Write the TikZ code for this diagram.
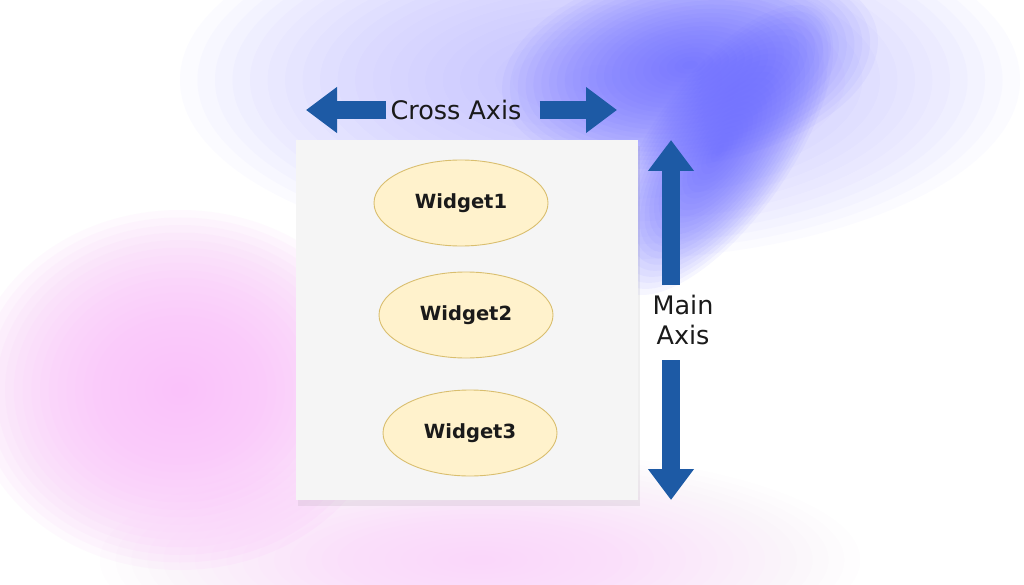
\documentclass[tikz,border=0pt]{standalone}
\usepackage{fontspec}
\setmainfont{DejaVu Sans}
\usepackage{xcolor}
\usetikzlibrary{arrows.meta,positioning,shapes.geometric,shadows}
\definecolor{axisblue}{HTML}{1D5AA5}
\definecolor{boxgray}{HTML}{F5F5F5}
\definecolor{widgetfill}{HTML}{FFF2CC}
\definecolor{widgetdraw}{HTML}{D9BE6E}
\definecolor{textink}{HTML}{1A1A1A}
\definecolor{blobblue}{HTML}{6868FF}
\definecolor{bloblilac}{HTML}{B8B4FF}
\definecolor{blobpink}{HTML}{FAC0FA}
% soft blob: colour, centre, x radius, y radius, rotation, layer opacity
\newcommand\softblob[6]{%
  \foreach \k in {1,...,24}{%
    \fill[#1,opacity=#6,rotate around={#5:#2}] #2 ellipse ({#3*\k/24} and {#4*\k/24});}}
\tikzset{
    every picture/.style={line join=round},
    containerbox/.style={fill=boxgray,draw=none,minimum width=342pt,minimum height=360pt,
      inner sep=0pt,
      drop shadow={opacity=0.12,shadow xshift=2pt,shadow yshift=-6pt}},
    widget/.style={ellipse,draw=widgetdraw,fill=widgetfill,line width=0.9pt,
      minimum width=174pt,minimum height=86pt,inner sep=0pt,
      text=textink,font=\fontsize{19.5}{21}\selectfont\bfseries},
    axislabel/.style={text=textink,font=\fontsize{25.5}{30}\selectfont,align=center},
    axisarrow/.style={-{Triangle[length=31pt,width=44pt]},draw=axisblue,
      line width=18pt}
}
\begin{document}
\begin{tikzpicture}[x=1pt,y=-1pt]
  \useasboundingbox (0,0) rectangle (1024,585);
  \fill[white] (0,0) rectangle (1024,585);
  % soft background blobs
  \softblob{bloblilac}{(600,80)}{420}{180}{0}{0.05}
  \softblob{blobblue}{(690,65)}{190}{100}{10}{0.055}
  \softblob{blobblue}{(720,150)}{170}{70}{55}{0.06}
  \softblob{blobpink}{(180,390)}{210}{180}{0}{0.09}
  \softblob{blobpink}{(480,560)}{380}{110}{0}{0.03}

  \node[containerbox] (box) at (467,320) {};
  \node[widget] (w1) at (461,203) {Widget1};
  \node[widget] (w2) at (466,315) {Widget2};
  \node[widget] (w3) at (470,433) {Widget3};

  % cross axis
  \node[axislabel,inner xsep=4pt] (cross) at (456,110) {Cross Axis};
  \coordinate (crossL) at (306,110);
  \coordinate (crossR) at (617,110);
  \draw[axisarrow] (cross.west) -- (crossL);
  \draw[axisarrow] (cross.east) ++(14,0) -- (crossR);

  % main axis
  \node[axislabel,inner ysep=10pt] (main) at (683,320) {Main\\Axis};
  \coordinate (mainU) at (671,140);
  \coordinate (mainD) at (671,500);
  \draw[axisarrow] (main.north -| mainU) -- (mainU);
  \draw[axisarrow] (main.south -| mainU) ++(0,5) -- (mainD);
\end{tikzpicture}
\end{document}
